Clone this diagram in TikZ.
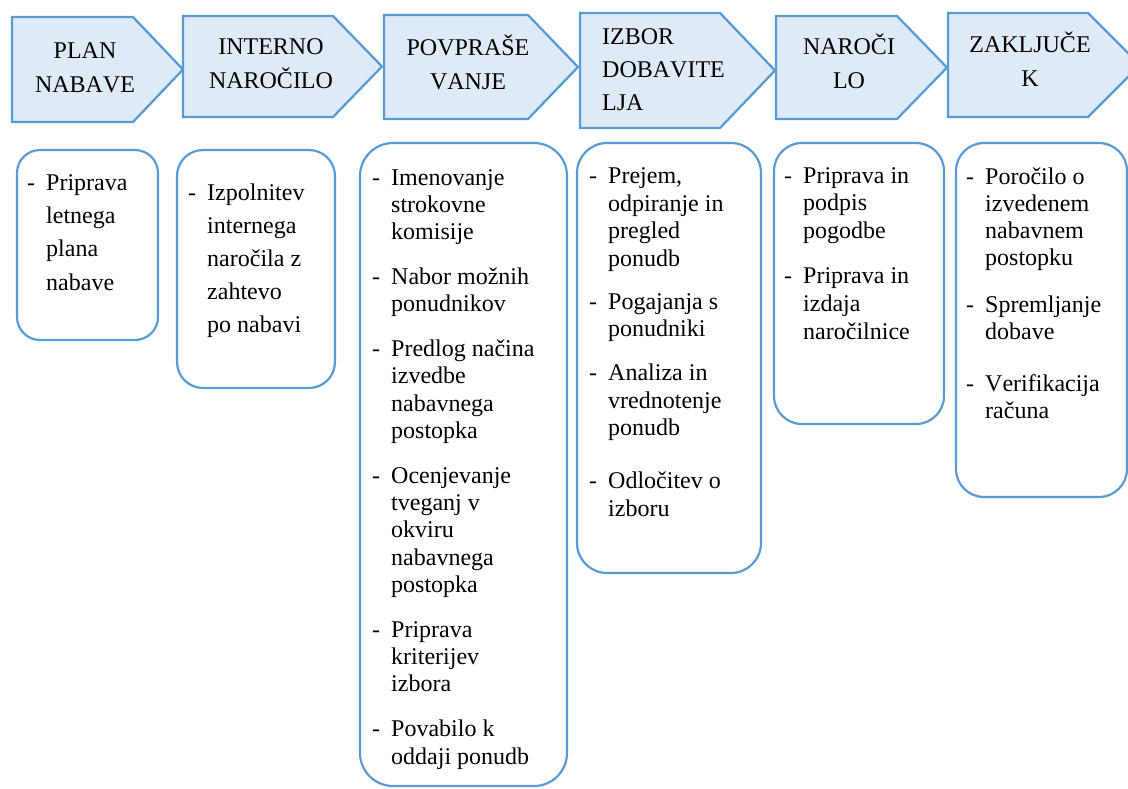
\documentclass[tikz,border=0pt]{standalone}
\usepackage{fontspec}
\setmainfont{Liberation Serif}[Kerning=Off]
\usepackage{xcolor}
\usepackage{tikz}
\definecolor{procBlue}{HTML}{5B9BD5}
\definecolor{procPale}{HTML}{DEEBF7}
\newcommand{\itemdash}{\makebox[19pt][l]{-}}
\newcommand{\itemhang}{\hspace*{19pt}}
\tikzset{
  phasearrow/.style={draw=procBlue, fill=procPale, line width=2.3pt, line join=miter},
  phasetext/.style={inner sep=0pt, align=center, anchor=base,
        font=\fontsize{24}{34}\selectfont},
  taskcard/.style={draw=procBlue, fill=white, line width=2.2pt, inner sep=0pt},
  tasklist/.style={inner sep=0pt, align=left, anchor=base west}
}

\begin{document}
\begin{tikzpicture}[x=1pt, y=-1pt]
\useasboundingbox (0,0) rectangle (1128,789);
\clip (0,0) rectangle (1128,789);

% phase arrows: left/top/bottom/corner/tip
\foreach \l/\t/\b/\c/\p in {12/17/122/133/183, 183/16/117/333/382, 384/15/119/528/578,
    580/13/128/720/775, 776/16/119/897/947, 948/13/117/1088/1140}
  \draw[phasearrow] (\l,\t) -- (\c,\t) -- (\p,{(\t+\b)/2}) -- (\c,\b) -- (\l,\b) -- cycle;

% base = last line of the text
\node[phasetext] (plan) at (85,93) {PLAN\\NABAVE};
\node[phasetext] (interno) at (271,89) {INTERNO\\NAROČILO};
\node[phasetext] (povprasevanje) at (468,90) {POVPRAŠE\\VANJE};
\node[phasetext, align=left, anchor=base west, font=\fontsize{24}{33}\selectfont]
  (izbor) at (602,111) {IZBOR\\DOBAVITE\\LJA};
\node[phasetext] (narocilo) at (849,89) {NAROČI\\LO};
\node[phasetext] (zakljucek) at (1030,87) {ZAKLJUČE\\K};

% task cards
\node[taskcard, minimum width=141, minimum height=190, rounded corners=23] (card1) at (87.5,245) {};
\node[taskcard, minimum width=158, minimum height=238, rounded corners=26] (card2) at (256,269) {};
\node[taskcard, minimum width=207, minimum height=643, rounded corners=33] (card3) at (463.5,464.5) {};
\node[taskcard, minimum width=184, minimum height=430, rounded corners=30] (card4) at (669,358) {};
\node[taskcard, minimum width=170, minimum height=281, rounded corners=28] (card5) at (859,283.5) {};
\node[taskcard, minimum width=171, minimum height=354, rounded corners=28] (card6) at (1041.5,320) {};

\node[tasklist, font=\fontsize{24}{33.3}\selectfont] (list1) at (27,290)
  {\itemdash Priprava\\\itemhang letnega\\\itemhang plana\\\itemhang nabave};
\node[tasklist, font=\fontsize{24}{33}\selectfont] (list2) at (188,332)
  {\itemdash Izpolnitev\\\itemhang internega\\\itemhang naročila z\\\itemhang zahtevo\\\itemhang po nabavi};
\node[tasklist, font=\fontsize{24}{27.3}\selectfont] (list3) at (372,764)
  {\itemdash Imenovanje\\\itemhang strokovne\\\itemhang komisije\\[17.5pt]
   \itemdash Nabor možnih\\\itemhang ponudnikov\\[17.5pt]
   \itemdash Predlog načina\\\itemhang izvedbe\\\itemhang nabavnega\\\itemhang postopka\\[17.5pt]
   \itemdash Ocenjevanje\\\itemhang tveganj v\\\itemhang okviru\\\itemhang nabavnega\\\itemhang postopka\\[17.5pt]
   \itemdash Priprava\\\itemhang kriterijev\\\itemhang izbora\\[17.5pt]
   \itemdash Povabilo k\\\itemhang oddaji ponudb};
\node[tasklist, font=\fontsize{24}{27.5}\selectfont] (list4) at (589,516)
  {\itemdash Prejem,\\\itemhang odpiranje in\\\itemhang pregled\\\itemhang ponudb\\[15.5pt]
   \itemdash Pogajanja s\\\itemhang ponudniki\\[16.5pt]
   \itemdash Analiza in\\\itemhang vrednotenje\\\itemhang ponudb\\[25.5pt]
   \itemdash Odločitev o\\\itemhang izboru};
\node[tasklist, font=\fontsize{24}{27.8}\selectfont] (list5) at (784,339)
  {\itemdash Priprava in\\\itemhang podpis\\\itemhang pogodbe\\[17pt]
   \itemdash Priprava in\\\itemhang izdaja\\\itemhang naročilnice};
\node[tasklist, font=\fontsize{24}{27}\selectfont] (list6) at (966,418)
  {\itemdash Poročilo o\\\itemhang izvedenem\\\itemhang nabavnem\\\itemhang postopku\\[20pt]
   \itemdash Spremljanje\\\itemhang dobave\\[25pt]
   \itemdash Verifikacija\\\itemhang računa};
\end{tikzpicture}
\end{document}
